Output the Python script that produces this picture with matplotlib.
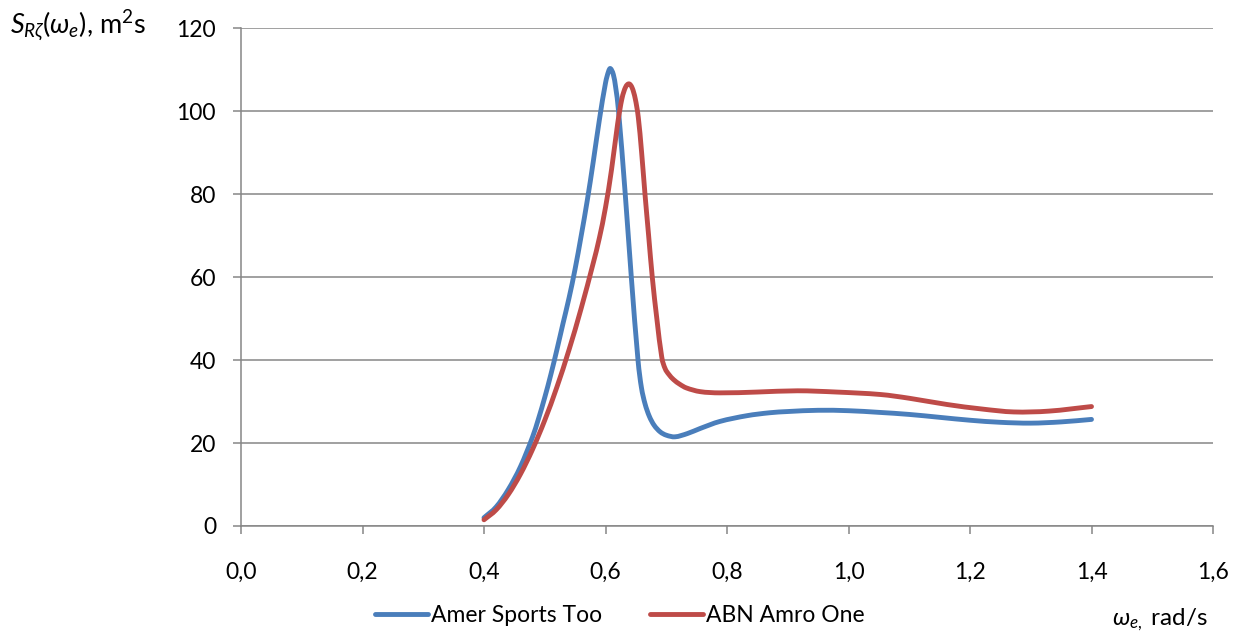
import matplotlib
matplotlib.use("Agg")
import matplotlib.pyplot as plt
from matplotlib.ticker import FixedLocator
from matplotlib.path import Path
from matplotlib.patches import PathPatch
from matplotlib.lines import Line2D

plt.rcParams['font.family'] = ['Lato', 'DejaVu Sans']
plt.rcParams['mathtext.fontset'] = 'custom'
plt.rcParams['mathtext.rm'] = 'Lato'
plt.rcParams['mathtext.it'] = 'Lato:italic'
plt.rcParams['mathtext.fallback'] = 'stixsans'

# Amer Sports Too
omega_blue = [0.400, 0.420, 0.440, 0.460, 0.480, 0.490, 0.500, 0.510, 0.520, 0.530,
              0.540, 0.550, 0.560, 0.570, 0.580, 0.590, 0.600, 0.605, 0.608, 0.613,
              0.617, 0.6215, 0.6325, 0.6425, 0.6535, 0.659, 0.665, 0.672, 0.680, 0.690,
              0.700, 0.7144, 0.735, 0.7556, 0.788, 0.833, 0.870, 0.90, 0.95, 1.00,
              1.05, 1.10, 1.15, 1.20, 1.25, 1.30, 1.35, 1.40]
s_blue = [2.0, 4.6, 8.8, 14.3, 21.5, 26.0, 31.0, 36.5, 42.5, 48.8,
          55.0, 62.0, 70.0, 78.5, 88.0, 98.0, 106.8, 109.6, 110.3, 108.8,
          105.5, 100.0, 80.0, 60.0, 40.0, 33.5, 29.5, 26.5, 24.3, 22.7,
          21.9, 21.5, 22.3, 23.5, 25.2, 26.6, 27.3, 27.6, 27.9, 27.8,
          27.4, 26.9, 26.2, 25.5, 25.0, 24.8, 25.1, 25.7]

# ABN Amro One
omega_red = [0.400, 0.420, 0.440, 0.460, 0.480, 0.500, 0.520, 0.540, 0.560, 0.580,
             0.590, 0.600, 0.610, 0.620, 0.627, 0.633, 0.6387, 0.644, 0.649, 0.654,
             0.6595, 0.665, 0.671, 0.677, 0.6845, 0.6925, 0.698, 0.704, 0.712, 0.722,
             0.733, 0.7556, 0.788, 0.85, 0.916, 0.98, 1.053, 1.10, 1.162, 1.22,
             1.272, 1.33, 1.40]
s_red = [1.5, 3.9, 7.6, 12.5, 18.5, 25.5, 33.5, 42.5, 52.5, 63.5,
         69.5, 76.8, 86.0, 97.0, 103.0, 105.8, 106.6, 105.6, 103.0, 98.5,
         90.0, 80.0, 70.0, 60.0, 50.0, 40.8, 38.0, 36.6, 35.3, 34.2,
         33.3, 32.4, 32.1, 32.3, 32.6, 32.3, 31.7, 30.8, 29.3, 28.2,
         27.5, 27.7, 28.8]

x_ticks = [0.0, 0.2, 0.4, 0.6, 0.8, 1.0, 1.2, 1.4, 1.6]
x_tick_labels = ["0,0", "0,2", "0,4", "0,6", "0,8", "1,0", "1,2", "1,4", "1,6"]
y_ticks = [0, 20, 40, 60, 80, 100, 120]
y_tick_labels = ["0", "20", "40", "60", "80", "100", "120"]

series_names = ["Amer Sports Too", "ABN Amro One"]
BLUE = "#4A7EBB"
RED = "#BE4B48"
GRID = "#868686"
FS = 16.5
LW = 3.5


def smooth_line_path(xs, ys):
    """Smoothed line (like a spreadsheet's 'smoothed line') through the data points,
    as cubic Bezier segments."""
    n = len(xs)
    m = []
    for i in range(n):
        if i == 0:
            m.append((ys[1] - ys[0]) / (xs[1] - xs[0]))
        elif i == n - 1:
            m.append((ys[-1] - ys[-2]) / (xs[-1] - xs[-2]))
        else:
            m.append((ys[i + 1] - ys[i - 1]) / (xs[i + 1] - xs[i - 1]))
    verts = [(xs[0], ys[0])]
    codes = [Path.MOVETO]
    for i in range(n - 1):
        h = xs[i + 1] - xs[i]
        verts += [(xs[i] + h / 3, ys[i] + m[i] * h / 3),
                  (xs[i + 1] - h / 3, ys[i + 1] - m[i + 1] * h / 3),
                  (xs[i + 1], ys[i + 1])]
        codes += [Path.CURVE4] * 3
    return Path(verts, codes)


fig = plt.figure(figsize=(12.44, 6.42), dpi=100)
ax = fig.add_axes([241/1244, 1-526/642, (1213-241)/1244, (526-28.3)/642])

for xs, ys, col in [(omega_blue, s_blue, BLUE), (omega_red, s_red, RED)]:
    patch = PathPatch(smooth_line_path(xs, ys), facecolor='none', edgecolor=col,
                      lw=LW, capstyle='round', joinstyle='round', zorder=3,
                      transform=ax.transData)
    ax.add_patch(patch)

ax.set_xlim(0, 1.6)
ax.set_ylim(0, 120)
ax.xaxis.set_major_locator(FixedLocator(x_ticks))
ax.set_xticklabels(x_tick_labels)
ax.yaxis.set_major_locator(FixedLocator(y_ticks))
ax.set_yticklabels(y_tick_labels)

for s in ['top', 'right']:
    ax.spines[s].set_visible(False)
for s in ['left', 'bottom']:
    ax.spines[s].set_color(GRID)
    ax.spines[s].set_linewidth(1.1)

ax.grid(axis='y', color=GRID, lw=1.1)
ax.set_axisbelow(True)
ax.tick_params(axis='both', colors=GRID, labelcolor='black', labelsize=FS,
               length=6, width=1.1, direction='out')
ax.tick_params(axis='x', pad=20)
ax.tick_params(axis='y', pad=12)

fig.text(10/1244, 1-35/642, r"$S_{R\zeta}(\omega_e)$, m$^2$s", fontsize=19.5,
         ha='left', va='baseline')
fig.text(1208/1244, 1-625/642, r"$\omega_{e,}$ rad/s", fontsize=17.5,
         ha='right', va='baseline')

handles = [Line2D([], [], color=BLUE, lw=LW, solid_capstyle='round'),
           Line2D([], [], color=RED, lw=LW, solid_capstyle='round')]
fig.legend(handles, series_names, loc='center',
           bbox_to_anchor=(620/1244, 1-616/642), ncol=2,
           frameon=False, fontsize=FS, handlelength=2.3, handletextpad=0.15,
           columnspacing=2.1)

fig.savefig("out.png", dpi=100)
